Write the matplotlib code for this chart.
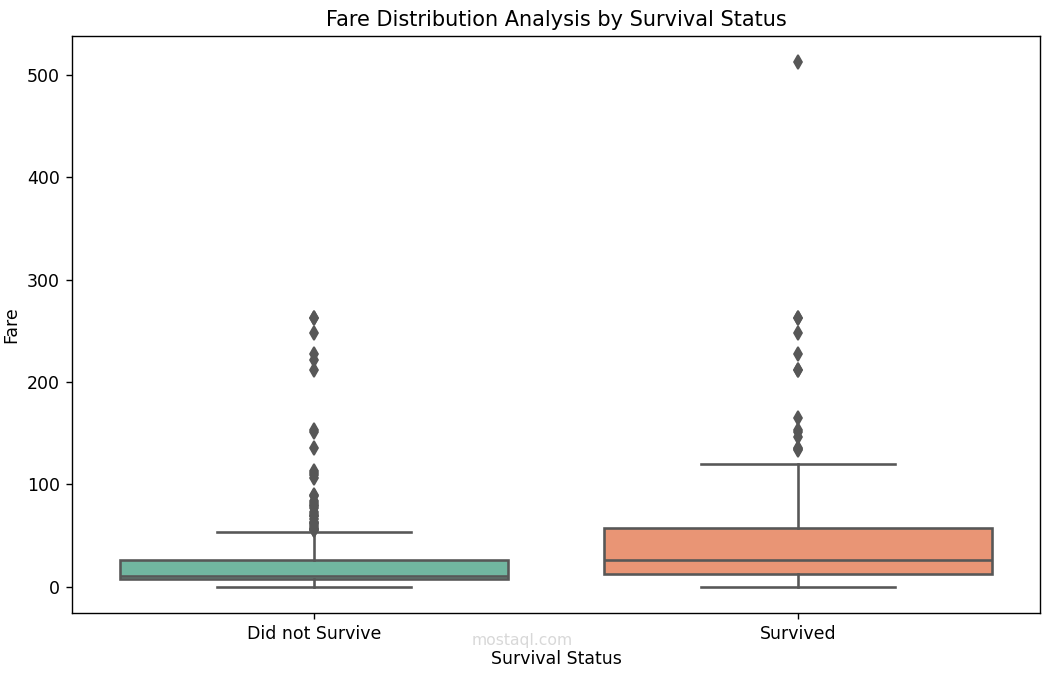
import numpy as np
import matplotlib
matplotlib.use("Agg")
import matplotlib.pyplot as plt

# values
categories = ["Did not Survive", "Survived"]
whisker_low = [0.0, 0.0]
q1 = [7.9, 12.5]
median = [10.5, 26.0]
q3 = [26.0, 57.0]
whisker_high = [53.1, 120.0]

fliers_died = [263.0, 263.0, 247.5, 227.5, 221.8, 211.5, 153.5, 151.6, 135.6,
               113.3, 110.9, 108.9, 106.4, 90.0, 89.1, 83.5, 82.2, 79.7, 79.2,
               77.3, 73.5, 71.0, 69.6, 69.3, 66.6, 63.4, 62.0, 61.2, 59.4,
               57.0, 56.5, 55.9, 55.4]
fliers_survived = [512.3, 263.0, 262.4, 247.5, 227.5, 211.5, 211.3, 164.9,
                   153.5, 151.6, 146.5, 135.6, 134.5, 133.7]

box_colors = ["#71b6a0", "#e99575"]
line_color = "#575757"

stats = []
for i, name in enumerate(categories):
    stats.append({
        "label": name,
        "whislo": whisker_low[i],
        "q1": q1[i],
        "med": median[i],
        "q3": q3[i],
        "whishi": whisker_high[i],
        "fliers": [fliers_died, fliers_survived][i],
    })

fig = plt.figure(figsize=(10.46 / 1.25, 6.73 / 1.25), dpi=125)
ax = fig.add_axes([72 / 1046, 1 - 613 / 673, 968 / 1046, 577 / 673])

lw = 1.5
bp = ax.bxp(stats, positions=[0, 1], widths=0.8, patch_artist=True,
            boxprops=dict(edgecolor=line_color, linewidth=lw),
            medianprops=dict(color=line_color, linewidth=lw),
            whiskerprops=dict(color=line_color, linewidth=lw),
            capprops=dict(color=line_color, linewidth=lw),
            flierprops=dict(marker="d", markersize=6, markerfacecolor=line_color,
                            markeredgecolor=line_color, linestyle="none"))
for patch, c in zip(bp["boxes"], box_colors):
    patch.set_facecolor(c)

# caps as wide as in seaborn (half the box width)
for cap in bp["caps"]:
    xs = cap.get_xdata()
    mid = (xs[0] + xs[1]) / 2
    cap.set_xdata([mid - 0.2, mid + 0.2])

ax.set_xlim(-0.5, 1.5)
ax.set_ylim(-25.6, 538.0)
ax.set_xticks([0, 1])
ax.set_xticklabels(categories)
ax.set_title("Fare Distribution Analysis by Survival Status")
ax.set_xlabel("Survival Status")
ax.set_ylabel("Fare")

# faint watermark as in the reference, kept just above the x label
fig.text(522 / 1046, 1 - 641 / 673, "mostaql.com", ha="center", va="center",
         fontsize=9, color="#d8d8d8", zorder=0)

fig.savefig("out.png", dpi=125)
